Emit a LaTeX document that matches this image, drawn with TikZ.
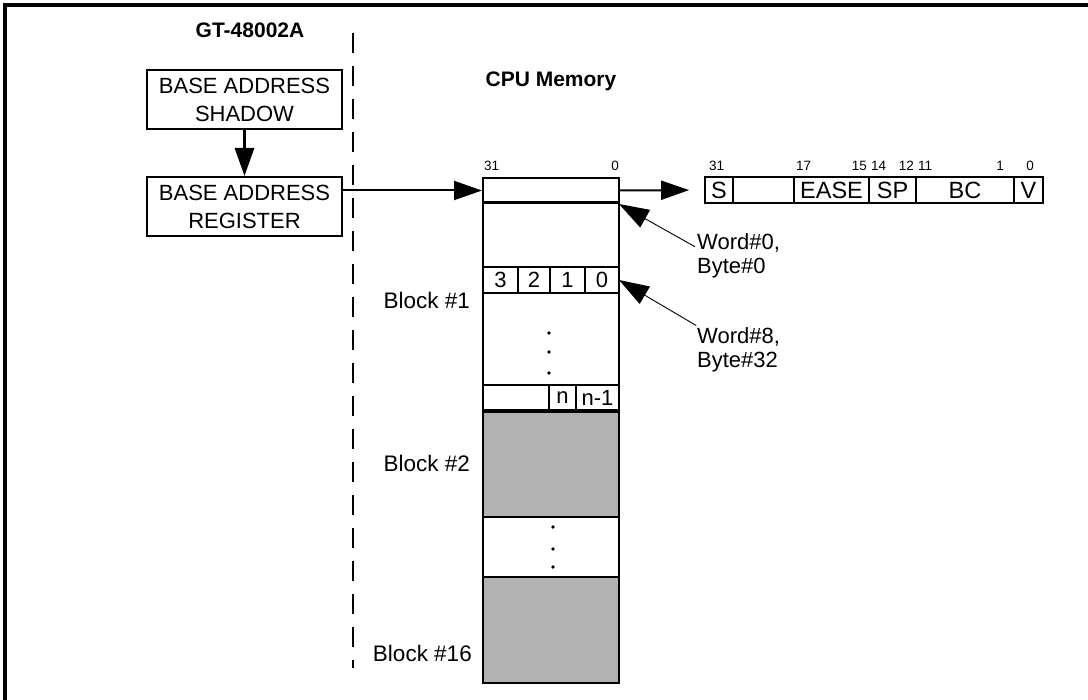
\documentclass[tikz,border=0pt]{standalone}
\usepackage{fontspec}
\setmainfont{Liberation Sans}
\usetikzlibrary{arrows.meta,calc}
\begin{document}
\begin{tikzpicture}[x=1pt,y=-1pt,
  box/.style={draw,line width=2pt,minimum width=195pt,minimum height=59pt,inner sep=0pt,align=center,font=\fontsize{22}{28}\selectfont},
  fld/.style={draw,line width=1.8pt,minimum height=26pt,inner sep=0pt,font=\fontsize{23.5}{23.5}\selectfont},
  cell/.style={inner sep=0pt,font=\fontsize{22}{22}\selectfont},
  bitn/.style={inner sep=0pt,font=\fontsize{13.5}{13.5}\selectfont},
  lbl/.style={inner sep=2pt,align=left,font=\fontsize{22}{24}\selectfont},
  blk/.style={inner sep=0pt,font=\fontsize{22.5}{22.5}\selectfont},
  head/.style={inner sep=0pt,font=\bfseries\fontsize{21}{21}\selectfont},
  bigarrow/.style={-{Triangle[length=28pt,width=19pt]}},
  thinarrow/.style={line width=0.9pt,-{Triangle[length=30pt,width=20pt]}},
  dotc/.style={fill,circle,inner sep=0pt,minimum size=3.6pt}
]
\useasboundingbox (0,0) rectangle (1088,700);
% frame
\draw[line width=3.5pt] (5,702) -- (5,5) -- (1092,5);
% dashed separator
\draw[line width=1.3pt,dash pattern=on 20pt off 13pt] (353,33) -- (353,668);
% headings
\node[head] (gt) at (250,30) {GT-48002A};
\node[head] (cpu) at (551,81) {CPU Memory};
% GT boxes
\node[box] (shadow) at (244.5,100) {BASE ADDRESS\\SHADOW};
\node[box] (reg) at (244.5,206.5) {BASE ADDRESS\\REGISTER};
\draw[line width=3pt,bigarrow] (shadow) -- (reg);
% memory column
\fill[black!30] (483,411) rectangle (619,517);
\fill[black!30] (483,577) rectangle (619,683);
\draw[line width=2pt] (483,178) rectangle (619,683);
\node[draw,line width=2pt,minimum width=136pt,minimum height=25pt,inner sep=0pt] (word) at (551,190.5) {};
\draw[line width=3pt] (483,203) -- (619,203);
\draw[line width=2.4pt] (483,267) -- (619,267) (483,293) -- (619,293);
\draw[line width=1.5pt] (518,267) -- (518,293) (550,267) -- (550,293) (585,267) -- (585,293);
\node[cell] (b3) at (500.5,280) {3};
\node[cell] (b2) at (534,280) {2};
\node[cell] (b1) at (567.5,280) {1};
\node[cell] (b0) at (602,280) {0};
\node[dotc] (d1) at (549,333) {};
\node[dotc] (d2) at (549,352) {};
\node[dotc] (d3) at (549,373) {};
\draw[line width=2.4pt] (483,385) -- (619,385);
\draw[line width=3.5pt] (483,411) -- (619,411);
\draw[line width=1.5pt] (549,385) -- (549,411) (576,385) -- (576,411);
\node[cell] (cn) at (562.5,398) {n};
\node[cell] (cn1) at (597.5,398) {n-1};
\draw[line width=2pt] (483,517) -- (619,517) (483,577) -- (619,577);
\node[dotc] (d4) at (553,527) {};
\node[dotc] (d5) at (553,549) {};
\node[dotc] (d6) at (553,567) {};
\node[bitn,anchor=west] (m31) at (484,166) {31};
\node[bitn,anchor=east] (m0) at (619,166) {0};
% block labels
\node[blk,anchor=east] (bl1) at (470,300) {Block \#1};
\node[blk,anchor=east] (bl2) at (470,463) {Block \#2};
\node[blk,anchor=east] (bl16) at (472,653) {Block \#16};
% arrow register -> memory
\draw[line width=2pt,bigarrow] (reg.east |- word.west) -- (word.west);
% descriptor register fields
\node[fld,minimum width=28pt] (fS) at (719,190) {S};
\node[fld,minimum width=61pt] (fR) at (763.5,190) {};
\node[fld,minimum width=75pt] (fE) at (831.5,190) {EASE};
\node[fld,minimum width=47pt] (fSP) at (892.5,190) {SP};
\node[fld,minimum width=98pt] (fBC) at (965,190) {BC};
\node[fld,minimum width=29pt] (fV) at (1028.5,190) {V};
\draw[line width=2pt,bigarrow,shorten >=15pt] (word.east) -- (fS.west);
\node[bitn,anchor=west] (r31) at (709,166) {31};
\node[bitn,anchor=west] (r17) at (796,166) {17};
\node[bitn,anchor=east] (r15) at (867,166) {15};
\node[bitn,anchor=west] (r14) at (871,166) {14};
\node[bitn,anchor=east] (r12) at (914,166) {12};
\node[bitn,anchor=west] (r11) at (918,166) {11};
\node[bitn] (r1) at (1000,166) {1};
\node[bitn] (r0) at (1030,166) {0};
% word labels
\coordinate (w0tip) at (619,204);
\coordinate (w8tip) at (619,280);
\node[lbl,anchor=west] (w0) at (695,256) {Word\#0,\\Byte\#0};
\node[lbl,anchor=west] (w8) at (695,350) {Word\#8,\\Byte\#32};
\draw[thinarrow] (w0.168) -- (w0tip);
\draw[thinarrow] (w8.150) -- (w8tip);
\end{tikzpicture}
\end{document}
